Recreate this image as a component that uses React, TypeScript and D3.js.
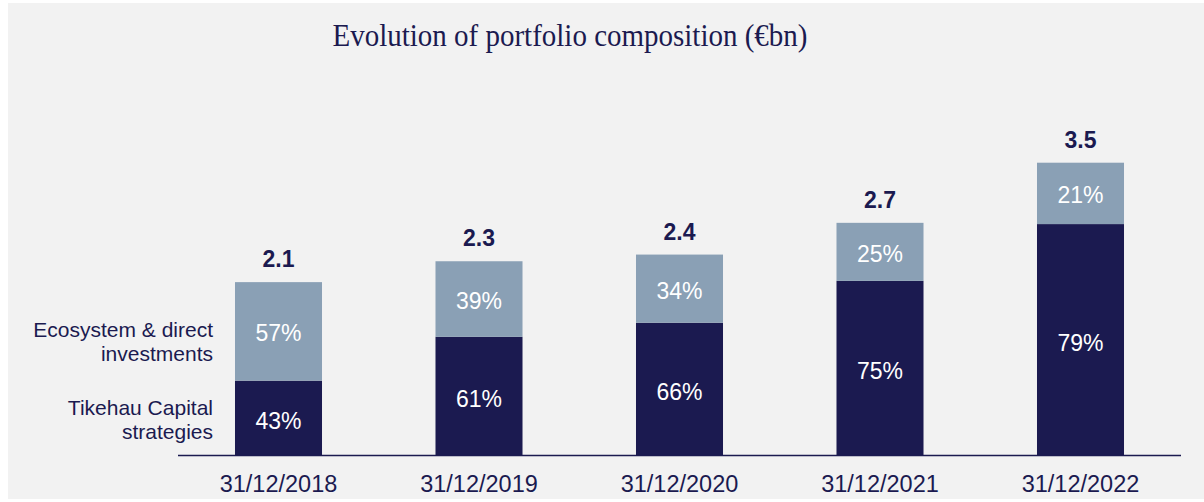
import React, { useEffect, useRef } from 'react';
import * as d3 from 'd3';

const dates = ['31/12/2018', '31/12/2019', '31/12/2020', '31/12/2021', '31/12/2022'];
// total portfolio size (€bn) as drawn, and the label printed above each bar
const totals = [2.07, 2.32, 2.4, 2.78, 3.5];
const totalLabels = ['2.1', '2.3', '2.4', '2.7', '3.5'];
// share of each bar (%)
const tikehauShare = [43, 61, 66, 75, 79];
const ecosystemShare = [57, 39, 34, 25, 21];
const seriesNames = ['Tikehau Capital strategies', 'Ecosystem & direct investments'];

const NAVY = '#1b1a50';
const STEEL = '#8aa0b5';

const App = () => {
  const svgRef = useRef<SVGSVGElement>(null);

  useEffect(() => {
    const svg = d3.select(svgRef.current);
    svg.selectAll('*').remove();

    const W = 1204;
    const H = 502;
    const baseY = 455;

    svg.append('rect').attr('x', 8).attr('y', 3).attr('width', W - 8).attr('height', H - 6).attr('fill', '#f2f2f2');

    const x = d3.scaleBand().domain(dates).range([178.25, 1180.75]).paddingInner(0.566).paddingOuter(0.283);
    const y = d3.scaleLinear().domain([0, 3.5]).range([baseY, 162.7]);

    const rows = dates.map((d, i) => {
      const dark = (totals[i] * tikehauShare[i]) / 100;
      return { date: d, total: totals[i], label: totalLabels[i], dark, tk: tikehauShare[i], eco: ecosystemShare[i] };
    });

    // title
    svg
      .append('text')
      .attr('x', 570)
      .attr('y', 46)
      .attr('text-anchor', 'middle')
      .attr('textLength', 475)
      .attr('lengthAdjust', 'spacingAndGlyphs')
      .style('font-family', '"Liberation Serif", serif')
      .style('font-size', '31px')
      .attr('fill', NAVY)
      .text('Evolution of portfolio composition (€bn)');

    const g = svg.selectAll('.bar').data(rows).enter().append('g').attr('class', 'bar');

    // dark part (Tikehau Capital strategies)
    g.append('rect')
      .attr('x', d => x(d.date)!)
      .attr('y', d => y(d.dark))
      .attr('width', x.bandwidth())
      .attr('height', d => baseY - y(d.dark))
      .attr('fill', NAVY);

    // light part (Ecosystem & direct investments)
    g.append('rect')
      .attr('x', d => x(d.date)!)
      .attr('y', d => y(d.total))
      .attr('width', x.bandwidth())
      .attr('height', d => y(d.dark) - y(d.total))
      .attr('fill', STEEL);

    const pct = (sel: any, yFn: (d: any) => number, txt: (d: any) => string) =>
      sel
        .append('text')
        .attr('x', (d: any) => x(d.date)! + x.bandwidth() / 2)
        .attr('y', yFn)
        .attr('text-anchor', 'middle')
        .attr('fill', '#ffffff')
        .style('font-family', 'Arial, "Liberation Sans", sans-serif')
        .style('font-size', '23px')
        .text(txt);

    pct(g, d => (y(d.dark) + baseY) / 2 + 11, d => `${d.tk}%`);
    pct(g, d => (y(d.dark) + y(d.total)) / 2 + 10, d => `${d.eco}%`);

    // totals above bars
    g.append('text')
      .attr('x', d => x(d.date)! + x.bandwidth() / 2)
      .attr('y', d => y(d.total) - 15)
      .attr('text-anchor', 'middle')
      .attr('fill', NAVY)
      .style('font-family', 'Arial, "Liberation Sans", sans-serif')
      .style('font-size', '23px')
      .style('font-weight', 'bold')
      .text(d => d.label);

    // baseline
    svg
      .append('line')
      .attr('x1', 178)
      .attr('x2', 1181)
      .attr('y1', baseY + 0.5)
      .attr('y2', baseY + 0.5)
      .attr('stroke', NAVY)
      .attr('stroke-width', 1.5);

    // date labels
    svg
      .selectAll('.date')
      .data(dates)
      .enter()
      .append('text')
      .attr('class', 'date')
      .attr('x', d => x(d)! + x.bandwidth() / 2)
      .attr('y', 491.5)
      .attr('text-anchor', 'middle')
      .attr('fill', NAVY)
      .style('font-family', 'Arial, "Liberation Sans", sans-serif')
      .style('font-size', '23.5px')
      .text(d => d);

    // series labels on the left, next to the first bar
    const legendLines = [
      { lines: ['Ecosystem & direct', 'investments'], y0: 337 },
      { lines: ['Tikehau Capital', 'strategies'], y0: 415 },
    ];
    legendLines.forEach((l, k) => {
      const t = svg
        .append('text')
        .attr('text-anchor', 'end')
        .attr('fill', NAVY)
        .style('font-family', 'Arial, "Liberation Sans", sans-serif')
        .style('font-size', '21px')
        .attr('aria-label', seriesNames[1 - k]);
      l.lines.forEach((s, j) => {
        t.append('tspan').attr('x', 213).attr('y', l.y0 + j * 24).text(s);
      });
    });
  }, []);

  return (
    <div style={{ position: 'absolute', left: 0, top: 0 }}>
      <svg ref={svgRef} width={1204} height={502} />
    </div>
  );
};

export default App;
